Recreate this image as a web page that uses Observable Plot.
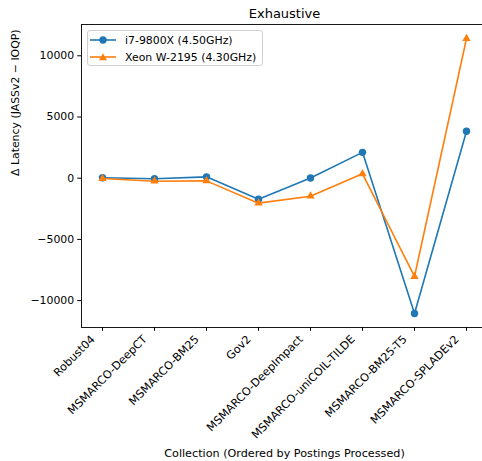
<!DOCTYPE html>
<html>
<head>
<meta charset="utf-8">
<script src="https://cdn.jsdelivr.net/npm/d3@7"></script>
<script src="https://cdn.jsdelivr.net/npm/@observablehq/plot@0.6"></script>
<style>
  html, body { margin: 0; padding: 0; background: white; overflow: hidden; }
  #wrap { position: relative; width: 482px; height: 461px; }
  #legend { position: absolute; left: 87px; top: 30px; width: 176px; height: 36px;
    border: 1px solid #d0d0d0; border-radius: 3px; background: rgba(255,255,255,0.8);
    font-family: "DejaVu Sans", sans-serif; font-size: 10.9px; color: black; box-sizing: border-box; }
  .row { position: absolute; left: 2px; height: 16px; display: flex; align-items: center; }
  .row svg { display: block; }
  .row span { margin-left: 7px; white-space: nowrap; }
</style>
</head>
<body>
<div id="wrap"><div id="legend"></div></div>
<script>
const categories = ["Robust04", "MSMARCO-DeepCT", "MSMARCO-BM25", "Gov2", "MSMARCO-DeepImpact", "MSMARCO-uniCOIL-TILDE", "MSMARCO-BM25-T5", "MSMARCO-SPLADEv2"];
const i7Values = [30, -50, 110, -1715, 20, 2110, -11050, 3840];
const xeonValues = [-30, -245, -220, -2040, -1470, 360, -8030, 11410];
const seriesNames = ["i7-9800X (4.50GHz)", "Xeon W-2195 (4.30GHz)"];
const seriesColors = ["#1f77b4", "#ff7f0e"];
const yTicks = [-10000, -5000, 0, 5000, 10000];
const titleText = "Exhaustive";
const xLabel = "Collection (Ordered by Postings Processed)";
const yLabel = "Δ Latency (JASSv2 − IOQP)";

const i7Rows = categories.map((c, i) => ({cat: c, value: i7Values[i], series: seriesNames[0]}));
const xeonRows = categories.map((c, i) => ({cat: c, value: xeonValues[i], series: seriesNames[1]}));
const fmt = d3.format("d");

const chart = Plot.plot({
  width: 482,
  height: 461,
  marginLeft: 81,
  marginRight: -5,
  marginTop: 24,
  marginBottom: 134,
  style: {fontFamily: "DejaVu Sans, sans-serif", fontSize: "10.9px", color: "black", background: "white", overflow: "visible"},
  x: {type: "point", domain: categories, padding: 0.345, label: null},
  y: {domain: [-12198, 12556], label: null},
  marks: [
    Plot.frame({stroke: "black", strokeWidth: 0.9}),
    Plot.axisY({ticks: yTicks, tickFormat: fmt, tickSize: 3.8, tickPadding: 3.5, label: null, stroke: "black", fontSize: 10.9}),
    Plot.axisX({tickSize: 3.8, tickFormat: () => "", label: null, stroke: "black"}),
    Plot.axisX({tickRotate: -45, tickSize: 0, tickPadding: 7.3, label: null, fontSize: 11.2, dx: -9.5, dy: 2.5}),
    Plot.line(i7Rows, {x: "cat", y: "value", stroke: seriesColors[0], strokeWidth: 1.6}),
    Plot.dot(i7Rows, {x: "cat", y: "value", fill: seriesColors[0], r: 3.7, symbol: "circle"}),
    Plot.line(xeonRows, {x: "cat", y: "value", stroke: seriesColors[1], strokeWidth: 1.6}),
    Plot.dot(xeonRows, {x: "cat", y: "value", fill: seriesColors[1], r: 3.1, symbol: "triangle"}),
    Plot.text([titleText], {frameAnchor: "top", text: d => d, dy: -7, lineAnchor: "bottom", fontSize: 13}),
    Plot.text([xLabel], {frameAnchor: "bottom", text: d => d, dy: 126, lineAnchor: "middle", fontSize: 11.2}),
    Plot.text([yLabel], {frameAnchor: "left", text: d => d, dx: -66, rotate: -90, lineAnchor: "middle", fontSize: 10.9})
  ]
});
document.getElementById("wrap").prepend(chart);

// legend
const legend = document.getElementById("legend");
seriesNames.forEach((name, i) => {
  const row = document.createElement("div");
  row.className = "row";
  row.style.top = (i === 0 ? 1 : 18) + "px";
  const ns = "http://www.w3.org/2000/svg";
  const svg = document.createElementNS(ns, "svg");
  svg.setAttribute("width", 28); svg.setAttribute("height", 16);
  const line = document.createElementNS(ns, "line");
  line.setAttribute("x1", 0); line.setAttribute("x2", 26); line.setAttribute("y1", 8); line.setAttribute("y2", 8);
  line.setAttribute("stroke", seriesColors[i]); line.setAttribute("stroke-width", 1.6);
  svg.appendChild(line);
  if (i === 0) {
    const c = document.createElementNS(ns, "circle");
    c.setAttribute("cx", 13); c.setAttribute("cy", 8); c.setAttribute("r", 3.7); c.setAttribute("fill", seriesColors[i]);
    svg.appendChild(c);
  } else {
    const p = document.createElementNS(ns, "path");
    p.setAttribute("d", "M13,4.2L17,11.2L9,11.2Z"); p.setAttribute("fill", seriesColors[i]);
    svg.appendChild(p);
  }
  row.appendChild(svg);
  const span = document.createElement("span");
  span.textContent = name;
  row.appendChild(span);
  legend.appendChild(row);
});
</script>
</body>
</html>
